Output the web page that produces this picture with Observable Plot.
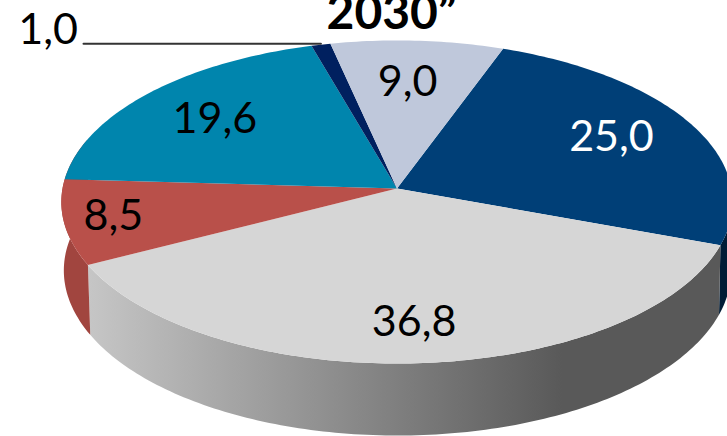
<!DOCTYPE html>
<html>
<head>
<meta charset="utf-8">
<script src="https://cdn.jsdelivr.net/npm/d3@7"></script>
<script src="https://cdn.jsdelivr.net/npm/@observablehq/plot@0.6"></script>
<style>
html,body{margin:0;padding:0;background:#fff;overflow:hidden}
svg{display:block}
</style>
</head>
<body>
<div id="chart"></div>
<script>
// Data, clockwise from the start angle
const labels = ["25,0", "36,8", "8,5", "19,6", "1,0", "9,0"];
const values = [25.0, 36.8, 8.5, 19.6, 1.0, 9.0];
const topColors = ["#003F77", "#D6D6D6", "#B9504A", "#0085AD", "#00205F", "#BFC8DB"];
const sideColors = ["#001C36", "url(#sideGray)", "#A1453F"];
const labelColors = ["#fff", "#000", "#000", "#000", "#000", "#000"];
const titleFragment = "2030”";

// Layout: radial fraction and angular shift of each label on the disc
const labelRadius = [0.735, 0.783, 0.853, 0.72, 1.567, 0.70];
const labelShift = [-1.4, 0.1, 0.6, -0.3, -32.3, -1.05];

const W = 727, H = 436;
const view = {cx: 396.5, apexY: 188, R: 334.5, b: 144.7, c: -0.0836, startDeg: 20};
// The lower rim of the pie is a second ellipse mapped from the top disc's ellipse
const topEllipse = {cy: 201.5, rx: 335, ry: 161.5};
const bottomEllipse = {cx: 397, cy: 270, rx: 333, ry: 165};

// Perspective projection of a disc point (polar fraction r, degrees clockwise from the back)
function project(r, deg) {
  const a = deg * Math.PI / 180;
  const u = r * Math.sin(a), v = -r * Math.cos(a);
  const d = 1 + view.c * v;
  return {x: view.cx + view.R * u / d, y: (view.apexY + view.b * v) / d};
}
function projectBottom(deg) {
  const p = project(1, deg);
  return {
    x: bottomEllipse.cx + (p.x - view.cx) * bottomEllipse.rx / topEllipse.rx,
    y: bottomEllipse.cy + (p.y - topEllipse.cy) * bottomEllipse.ry / topEllipse.ry
  };
}
function arc(a0, a1) {
  const n = Math.max(2, Math.ceil(Math.abs(a1 - a0)));
  return d3.range(n + 1).map(i => a0 + (a1 - a0) * i / n);
}

const total = d3.sum(values);
let cursor = view.startDeg;
const slices = values.map((v, i) => {
  const a0 = cursor, a1 = cursor + v / total * 360;
  cursor = a1;
  return {i, name: labels[i], a0, a1, mid: (a0 + a1) / 2};
});

const topPts = slices.flatMap(s => [
  {key: s.name, ...project(0, 0)},
  ...arc(s.a0, s.a1).map(a => ({key: s.name, ...project(1, a)}))
]);

// The rim shows for the first three slices; the last of them wraps round the left silhouette
const rimFrom = 86, rimTo = 288;
const sidePolys = slices.slice(0, 3).map((s, k, all) => {
  const a0 = Math.max(s.a0, rimFrom), a1 = k === all.length - 1 ? rimTo : s.a1;
  const angles = arc(a0, a1);
  return {s, pts: [
    ...angles.map(a => ({key: s.name, ...project(1, a)})),
    ...angles.slice().reverse().map(a => ({key: s.name, ...projectBottom(a)}))
  ]};
});

const labelPts = slices.map(s => ({
  text: s.name, color: labelColors[s.i],
  ...project(labelRadius[s.i], s.mid + labelShift[s.i])
}));

const thin = slices[4];
const rimPoint = project(1, thin.mid);
const leaderStartX = 83;
const leader = [{x: leaderStartX, y: rimPoint.y - 1}, {x: rimPoint.x, y: rimPoint.y - 1}];

const gradientDefs = () => {
  const ns = "http://www.w3.org/2000/svg";
  const defs = document.createElementNS(ns, "defs");
  const g = document.createElementNS(ns, "linearGradient");
  g.setAttribute("id", "sideGray");
  [[0, "#c6c6c6"], [0.75, "#595959"], [1, "#595959"]].forEach(([o, c]) => {
    const st = document.createElementNS(ns, "stop");
    st.setAttribute("offset", o);
    st.setAttribute("stop-color", c);
    g.appendChild(st);
  });
  defs.appendChild(g);
  return defs;
};

const font = "Lato, Carlito, sans-serif";
const plot = Plot.plot({
  width: W, height: H,
  marginTop: 0, marginRight: 0, marginBottom: 0, marginLeft: 0,
  x: {domain: [0, W], range: [0, W], axis: null},
  y: {domain: [0, H], range: [0, H], axis: null},
  style: {background: "#fff"},
  marks: [
    gradientDefs,
    ...sidePolys.map(({s, pts}) => Plot.line(pts, {x: "x", y: "y", fill: sideColors[s.i], stroke: "none"})),
    ...slices.map(s => Plot.line(topPts.filter(d => d.key === s.name), {x: "x", y: "y", fill: topColors[s.i], stroke: "none"})),
    Plot.line(leader, {x: "x", y: "y", stroke: "#333", strokeWidth: 2}),
    Plot.text(labelPts, {x: "x", y: "y", text: "text", fill: "color", fontFamily: font, fontSize: 43, textAnchor: "middle", lineAnchor: "middle"}),
    Plot.text([titleFragment], {x: () => 391, y: () => 13, text: d => d, fill: "#000", fontFamily: font, fontWeight: 700, fontSize: 48, textAnchor: "middle", lineAnchor: "middle"})
  ]
});
document.getElementById("chart").appendChild(plot);
</script>
</body>
</html>
